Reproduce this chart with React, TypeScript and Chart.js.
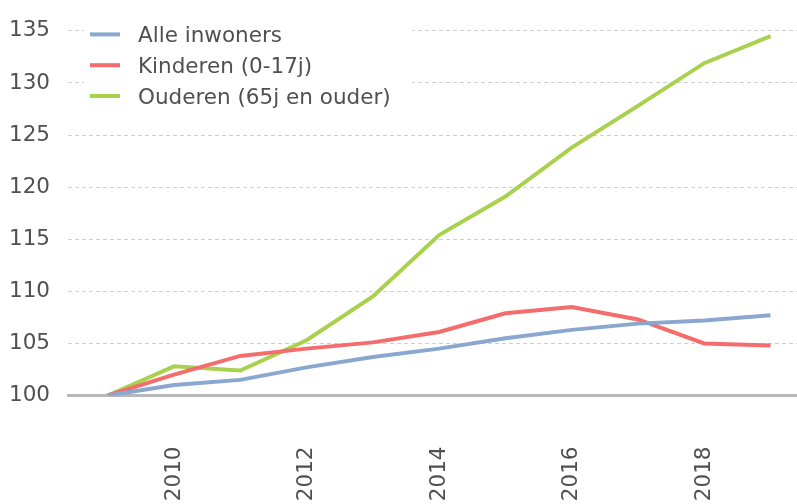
import React, { useEffect, useRef } from 'react';
import { Chart, registerables } from 'chart.js';

Chart.register(...registerables);

// ---- data ----
const years = [2009, 2010, 2011, 2012, 2013, 2014, 2015, 2016, 2017, 2018, 2019];
const alleInwoners = [100, 101.0, 101.5, 102.7, 103.7, 104.5, 105.5, 106.3, 106.9, 107.2, 107.7];
const kinderen = [100, 102.0, 103.8, 104.5, 105.1, 106.1, 107.9, 108.5, 107.3, 105.0, 104.8];
const ouderen = [100, 102.8, 102.4, 105.3, 109.5, 115.4, 119.1, 123.8, 127.8, 131.9, 134.5];
const seriesLabels = ['Alle inwoners', 'Kinderen (0-17j)', 'Ouderen (65j en ouder)'];
const seriesColors = ['#8aa7d0', '#f46c6c', '#a9d14e'];
const xTickValues = [2010, 2012, 2014, 2016, 2018];
const yMin = 100;
const yMax = 135;
const yStep = 5;

const FONT_FAMILY = '"DejaVu Sans", sans-serif';
const FONT_SIZE = 21.5;
const TEXT_COLOR = '#505050';

const insetLegend = {
  id: 'insetLegend',
  afterDraw(chart: any) {
    const ctx = chart.ctx as CanvasRenderingContext2D;
    const area = chart.chartArea;
    ctx.save();
    ctx.fillStyle = '#ffffff';
    ctx.fillRect(area.left + 16, area.top - 12, 328, 92);
    chart.data.datasets.forEach((ds: any, i: number) => {
      const cy = area.top + 3.5 + i * 30.8;
      ctx.fillStyle = ds.borderColor;
      ctx.fillRect(area.left + 22, cy - 2, 30, 4);
      ctx.fillStyle = TEXT_COLOR;
      ctx.font = `${FONT_SIZE}px ${FONT_FAMILY}`;
      ctx.textBaseline = 'alphabetic';
      ctx.textAlign = 'left';
      ctx.fillText(ds.label, area.left + 70, cy + 7.8);
    });
    ctx.restore();
  },
};

export default function App() {
  const canvasRef = useRef<HTMLCanvasElement | null>(null);

  useEffect(() => {
    if (!canvasRef.current) return;
    const series = [alleInwoners, kinderen, ouderen];
    const chart = new Chart(canvasRef.current, {
      type: 'line',
      data: {
        datasets: series.map((vals, i) => ({
          label: seriesLabels[i],
          data: years.map((y, j) => ({ x: y, y: vals[j] })),
          borderColor: seriesColors[i],
          backgroundColor: seriesColors[i],
          borderWidth: 4,
          pointRadius: 0,
          pointHoverRadius: 0,
          tension: 0,
          fill: false,
        })),
      },
      options: {
        animation: false,
        responsive: true,
        maintainAspectRatio: false,
        layout: { padding: { top: 25, right: 0, bottom: 0, left: 0 } },
        plugins: {
          legend: { display: false },
          tooltip: { enabled: false },
        },
        scales: {
          x: {
            type: 'linear',
            min: 2008.4,
            max: 2019.4,
            afterBuildTicks: (axis: any) => {
              axis.ticks = xTickValues.map((v) => ({ value: v }));
            },
            afterFit: (axis: any) => {
              axis.height = 108.5;
            },
            grid: { display: false, drawTicks: false },
            border: { display: true, color: '#b8b8b8', width: 3 },
            ticks: {
              autoSkip: false,
              minRotation: 90,
              maxRotation: 90,
              padding: 51,
              color: TEXT_COLOR,
              font: { family: FONT_FAMILY, size: FONT_SIZE },
              callback: (v: any) => String(v),
            },
          },
          y: {
            min: yMin,
            max: yMax,
            afterFit: (axis: any) => {
              axis.width = 68;
            },
            grid: {
              drawTicks: false,
              lineWidth: 1,
              color: (c: any) => (c.tick && c.tick.value === yMin ? 'rgba(0,0,0,0)' : '#d0d0d0'),
            },
            border: { display: false, dash: [4, 3] },
            ticks: {
              stepSize: yStep,
              padding: 18,
              color: TEXT_COLOR,
              font: { family: FONT_FAMILY, size: FONT_SIZE },
            },
          },
        },
      },
      plugins: [insetLegend],
    });
    return () => chart.destroy();
  }, []);

  return (
    <div style={{ position: 'absolute', left: 0, top: 0, width: 797, height: 504, background: '#ffffff' }}>
      <canvas ref={canvasRef} />
    </div>
  );
}
